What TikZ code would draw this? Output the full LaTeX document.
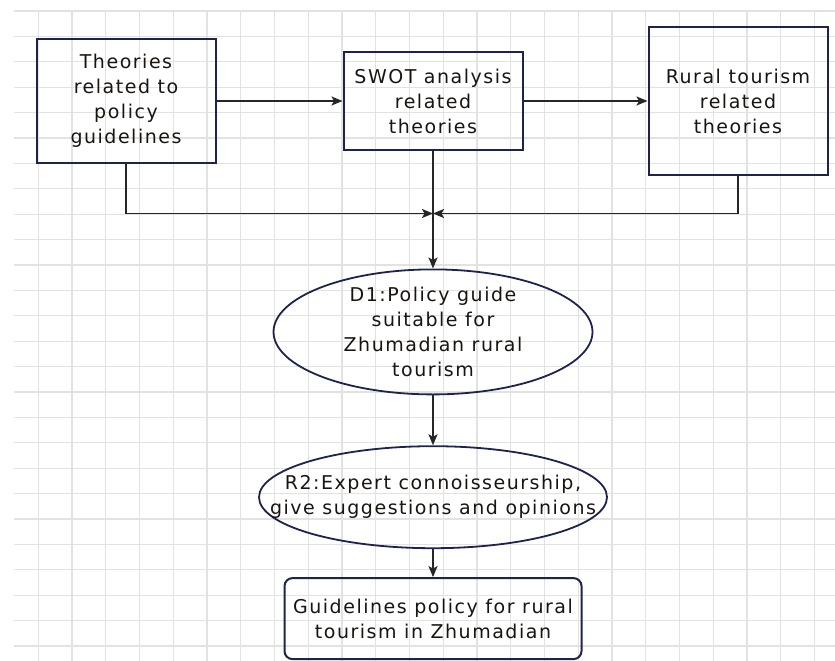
\documentclass[tikz,border=0pt]{standalone}
\usepackage{fontspec}
\newfontfamily\diagfont[LetterSpace=8]{DejaVu Sans}
\usetikzlibrary{arrows.meta, positioning, shapes.geometric, calc}

\definecolor{boxline}{RGB}{30,35,75}
\definecolor{inkcol}{RGB}{25,20,15}
\definecolor{gridcol}{RGB}{226,226,226}

\begin{document}
\begin{tikzpicture}[
    x=1pt, y=-1pt,
    font=\diagfont\fontsize{19}{25}\selectfont,
    basebox/.style={rectangle, draw=boxline, line width=2pt, text=inkcol, align=center, minimum width=179pt, inner sep=4pt},
    oval/.style={ellipse, draw=boxline, line width=1.8pt, inner sep=0pt},
    ovaltext/.style={text=inkcol, align=center},
    result/.style={rectangle, rounded corners=8pt, draw=boxline, line width=2pt, text=inkcol, align=center, minimum width=297pt, minimum height=81pt},
    arrow/.style={line width=1.8pt, draw=black!85, -{Stealth[length=11pt, width=9pt, inset=2.5pt]}},
    gridline/.style={draw=gridcol, line width=1.3pt}
]
\useasboundingbox (0,0) rectangle (835,661);

% grid paper
\foreach \k in {0,...,23}
    \draw [gridline] ({38.3+33.75*\k},11) -- ({38.3+33.75*\k},661);
\foreach \k in {0,...,25}
    \draw [gridline] (14,{11+25.4*\k}) -- (835,{11+25.4*\k});

% nodes
\node (policy) [basebox, minimum height=124pt] at (126,101) {Theories\\related to\\policy\\guidelines};
\node (swot) [basebox, minimum height=97pt, right=126pt of policy] {SWOT analysis\\related\\theories};
\node (rural) [basebox, minimum height=148pt, right=124pt of swot] {Rural tourism\\related\\theories};
\node (dOne) [oval, minimum width=319pt, minimum height=125pt, below=118pt of swot,
    label={[ovaltext]center:{D1:Policy guide\\suitable for\\Zhumadian rural\\tourism}}] {};
\node (rTwo) [oval, minimum width=348pt, minimum height=102pt, below=50pt of dOne,
    label={[ovaltext]center:{R2:Expert connoisseurship,\\give suggestions and opinions}}] {};
\node (guide) [result, below=28pt of rTwo] {Guidelines policy for rural\\tourism in Zhumadian};

% arrows
\coordinate (meet) at ([yshift=-63pt]swot.south);
\draw [arrow] (policy) -- (swot);
\draw [arrow] (swot) -- (rural);
\draw [arrow] (policy.south) |- (meet);
\draw [arrow] (rural.south) |- (meet);
\draw [arrow] (swot.south) -- (dOne.north);
\draw [arrow] (dOne.south) -- (rTwo.north);
\draw [arrow] (rTwo.south) -- (guide.north);

\end{tikzpicture}
\end{document}
